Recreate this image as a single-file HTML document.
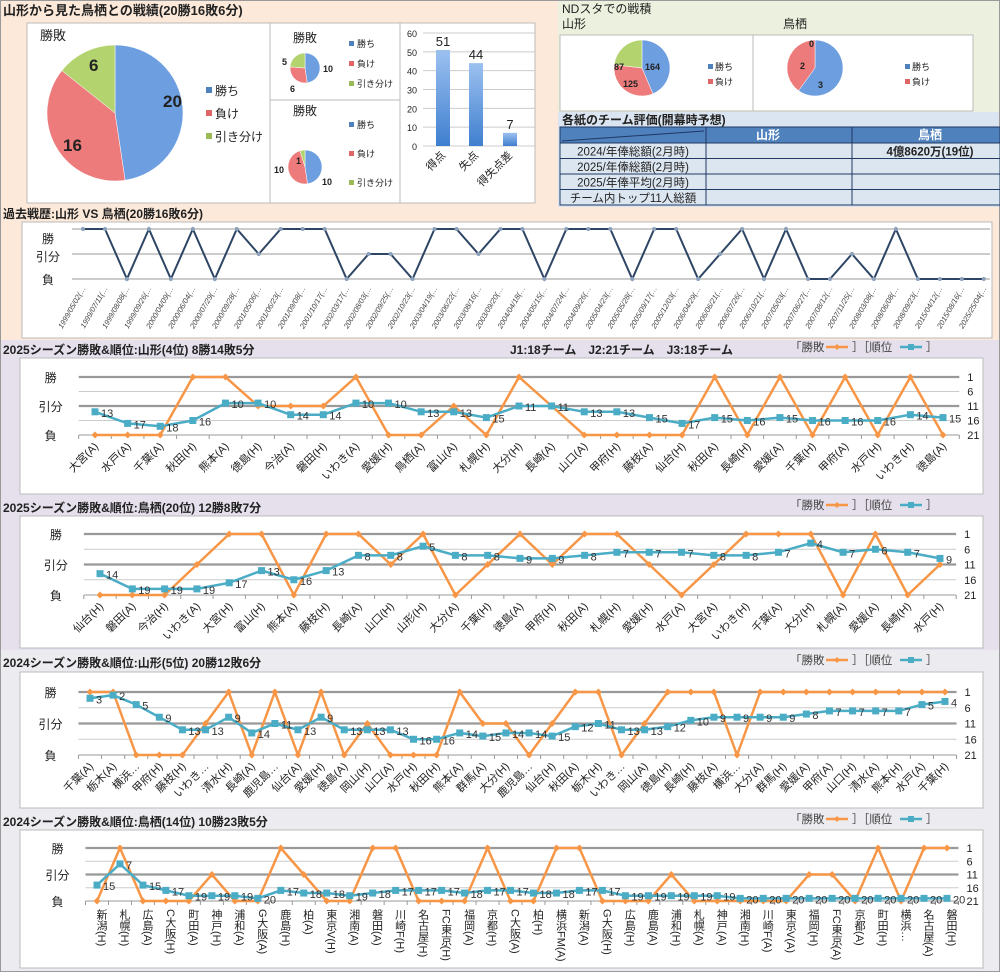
<!DOCTYPE html>
<html><head><meta charset="utf-8">
<style>
html,body{margin:0;padding:0;width:1000px;height:972px;overflow:hidden;background:#fff;}
svg{display:block;font-family:"Liberation Sans","Noto Sans CJK JP",sans-serif;}
</style></head>
<body>
<svg id="s" width="1000" height="972" xmlns="http://www.w3.org/2000/svg"></svg>
<script>
const S=document.getElementById('s');const NS='http://www.w3.org/2000/svg';
function el(t,a,txt){const e=document.createElementNS(NS,t);for(const k in a)e.setAttribute(k,a[k]);if(txt!==undefined)e.textContent=txt;S.appendChild(e);return e;}
function rect(x,y,w,h,f,st,sw){return el('rect',{x,y,width:w,height:h,fill:f,stroke:st||'none','stroke-width':sw||1});}
function txt(x,y,t,o){o=o||{};return el('text',Object.assign({x,y,'font-size':12,fill:'#222'},o),t);}
function line(x1,y1,x2,y2,c,w){return el('line',{x1,y1,x2,y2,stroke:c,'stroke-width':w||1});}
// backgrounds
rect(0,0,1000,972,'#f2f2f2');
rect(0,0,1000,340,'#fde9d9');
rect(558,0,442,112,'#ebf1de');
rect(558,112,442,95,'#dbe5f1');
rect(0,340,1000,310,'#e5e0ec');
rect(0,650,1000,322,'#ececf0');
rect(0.5,0.5,999,971,'none','#999');
const B='bold';
txt(3,15,'山形から見た鳥栖との戦績(20勝16敗6分)',{'font-size':13,'font-weight':B});
// pie helper
function pie(cx,cy,r,vals,cols){const tot=vals.reduce((a,b)=>a+b,0);let a=-Math.PI/2;vals.forEach((v,i)=>{if(!v)return;const b=a+v/tot*2*Math.PI;const x1=cx+r*Math.cos(a),y1=cy+r*Math.sin(a),x2=cx+r*Math.cos(b),y2=cy+r*Math.sin(b);el('path',{d:`M${cx},${cy}L${x1},${y1}A${r},${r} 0 ${b-a>Math.PI?1:0} 1 ${x2},${y2}Z`,fill:cols[i],stroke:'#fff','stroke-width':0.5});a=b;});}
const C3=['#4f81bd','#e06666','#9bbb59'];
const PC=['#6d9ee0','#ee7b7b','#b3d36e'];
// big pie
rect(27,23,243,180,'#fff','#bbb');
txt(40,40,'勝敗',{'font-size':13});
pie(115,113,68,[20,16,6],PC);
txt(163,107,'20',{'font-size':17,'font-weight':B});
txt(63,151,'16',{'font-size':17,'font-weight':B});
txt(89,71,'6',{'font-size':17,'font-weight':B});
[['勝ち',95],['負け',118],['引き分け',141]].forEach((l,i)=>{rect(206,l[1]-8,6,6,C3[i]);txt(215,l[1],l[0],{'font-size':12});});
// small pies
rect(270,23,130,77,'#fff','#bbb');rect(270,100,130,103,'#fff','#bbb');
txt(293,42,'勝敗',{'font-size':12});txt(293,115,'勝敗',{'font-size':12});
pie(305,68,15,[10,6,5],PC);
txt(323,72,'10',{'font-size':9,'font-weight':B});txt(282,65,'5',{'font-size':9,'font-weight':B});txt(290,92,'6',{'font-size':9,'font-weight':B});
[['勝ち',47],['負け',67],['引き分け',87]].forEach((l,i)=>{rect(349,l[1]-6,5,5,C3[i]);txt(357,l[1],l[0],{'font-size':9});});
pie(305,167,17,[10,10,1],PC);
txt(296,164,'1',{'font-size':9,'font-weight':B});txt(274,173,'10',{'font-size':9,'font-weight':B});txt(322,185,'10',{'font-size':9,'font-weight':B});
[['勝ち',128],['負け',157],['引き分け',186]].forEach((l,i)=>{rect(349,l[1]-6,5,5,C3[i]);txt(357,l[1],l[0],{'font-size':9});});
// bar chart
rect(400,23,135,180,'#fff','#bbb');
const d=el('defs',{});d.innerHTML='<linearGradient id="bg" x1="0" y1="0" x2="0" y2="1"><stop offset="0" stop-color="#9cc1f0"/><stop offset="1" stop-color="#3f7fcf"/></linearGradient>';
for(let v=0;v<=60;v+=10){const y=146-v*113/60;line(423,y,535,y,'#ccc');txt(417,y+4,String(v),{'font-size':9,'text-anchor':'end'});}
[[51,436,'得点'],[44,469,'失点'],[7,503,'得失点差']].forEach(b=>{const h=b[0]*113/60;rect(b[1],146-h,14,h,'url(#bg)');txt(b[1]+7,146-h-4,String(b[0]),{'font-size':13,'text-anchor':'middle'});txt(b[1]+10,156,b[2],{'font-size':11,'text-anchor':'end',transform:`rotate(-45 ${b[1]+10} 156)`});});
// ND sta
txt(562,13,'NDスタでの戦積',{'font-size':12});
txt(562,28,'山形',{'font-size':12});txt(783,28,'鳥栖',{'font-size':12});
rect(560,35,193,76,'#fff','#bbb');rect(753,35,220,76,'#fff','#bbb');
pie(642,68,28,[164,125,87],PC);
txt(645,70,'164',{'font-size':9,'font-weight':B});txt(623,87,'125',{'font-size':9,'font-weight':B});txt(614,70,'87',{'font-size':9,'font-weight':B});
pie(815,68,28,[3,2,0],PC);
txt(818,88,'3',{'font-size':9,'font-weight':B});txt(800,69,'2',{'font-size':9,'font-weight':B});txt(809,47,'0',{'font-size':9,'font-weight':B});
[[708,'勝ち',70],[708,'負け',85],[905,'勝ち',70],[905,'負け',85]].forEach((l,i)=>{rect(l[0],l[2]-6,5,5,C3[i%2]);txt(l[0]+7,l[2],l[1],{'font-size':9});});
// table
txt(562,124,'各紙のチーム評価(開幕時予想)',{'font-size':12,'font-weight':B});
rect(560,127,440,16,'#4f81bd','#1f3864');
line(562,141,704,131,'#1f3864');
txt(768,139,'山形',{'font-size':12,'fill':'#fff','font-weight':B,'text-anchor':'middle'});
txt(930,139,'鳥栖',{'font-size':12,'fill':'#fff','font-weight':B,'text-anchor':'middle'});
const rows=['2024/年俸総額(2月時)','2025/年俸総額(2月時)','2025/年俸平均(2月時)','チーム内トップ11人総額'];
rows.forEach((r,i)=>{const y=143+i*15.5;rect(560,y,146,15.5,'#dce6f1','#1f3864');rect(706,y,146,15.5,'#dce6f1','#1f3864');rect(852,y,148,15.5,'#dce6f1','#1f3864');txt(633,y+12.5,r,{'font-size':11.5,'text-anchor':'middle'});});
txt(930,155.5,'4億8620万(19位)',{'font-size':11.5,'font-weight':B,'text-anchor':'middle'});
line(706,127,706,205,'#1f3864');line(852,127,852,205,'#1f3864');
// history
txt(3,218,'過去戦歴:山形 VS 鳥栖(20勝16敗6分)',{'font-size':12,'font-weight':B});
rect(22,222,970,116,'#fff','#bbb');
const hd=['1999/05/02','1999/07/11','1999/08/08','1999/09/26','2000/04/09','2000/06/04','2000/07/29','2000/09/28','2001/05/06','2001/06/23','2001/09/08','2001/10/17','2002/03/17','2002/08/03','2002/09/25','2002/10/23','2003/04/19','2003/06/22','2003/08/16','2003/09/20','2004/04/18','2004/05/15','2004/07/24','2004/09/26','2005/04/23','2005/05/28','2005/09/17','2005/12/03','2006/04/29','2006/06/21','2006/07/26','2006/10/21','2007/05/03','2007/06/27','2007/08/12','2007/11/25','2008/03/08','2008/06/08','2008/09/23','2015/04/12','2015/08/16','2025/25/04'];
const hr='WWLWLWLWDWWWLDDLWWDWWLWWWLWWLDWLWLLDLWLLLL';
[229,254,279].forEach(y=>line(72,y,990,y,'#bbb',1.5));
txt(48,243,'勝',{'font-size':12,'text-anchor':'middle'});txt(48,261,'引分',{'font-size':12,'text-anchor':'middle'});txt(48,284,'負',{'font-size':12,'text-anchor':'middle'});
const hx=i=>83+i*21.97,hy=c=>c=='W'?229:c=='D'?254:279;
el('polyline',{points:hd.map((_,i)=>hx(i)+','+hy(hr[i])).join(' '),fill:'none',stroke:'#2e4565','stroke-width':2});
hd.forEach((l,i)=>{el('circle',{cx:hx(i),cy:hy(hr[i]),r:2,fill:'#8aa0bb'});const x=hx(i)+3,y=288;txt(x,y,l+'(…',{'font-size':7.5,'fill':'#444','font-style':'italic','text-anchor':'end',transform:`rotate(-60 ${x} ${y})`});});
// series charts
function series(c){
 txt(3,c.ty,c.title,{'font-size':12,'font-weight':B});
 if(c.extra)txt(510,c.ty,c.extra,{'font-size':12,'font-weight':B});
 txt(790,c.ty-3,'「勝敗',{'font-size':11.5,'fill':'#444'});
 line(826,c.ty-7,848,c.ty-7,'#f79646',2.5);el('path',{d:`M837,${c.ty-10}l3,3l-3,3l-3,-3z`,fill:'#f79646'});
 txt(852,c.ty-3,'］［順位',{'font-size':11.5,'fill':'#444'});
 line(900,c.ty-7,922,c.ty-7,'#4bacc6',2.5);rect(908,c.ty-10,6,6,'#4bacc6');
 txt(926,c.ty-3,'］',{'font-size':11.5,'fill':'#444'});
 rect(20,c.by,963,c.bh,'#fff','#bbb');
 const n=c.lab.length,sp=(c.x1-c.x0)/(n-1),L=c.x0-sp/2,R=c.x1+sp/2,yt=c.yt,yb=c.yb,ry=r=>yt+(r-1)/20*(yb-yt);
 [1,6,11,16,21].forEach(r=>line(L,ry(r),R,ry(r),(r==1||r==11||r==21)?'#999':'#ccc',(r==1||r==11)?2.2:1));
 for(let i=0;i<=n;i++)line(L+i*sp,yb,L+i*sp,yb+4,'#999');
 txt(L-28,yt+5,'勝',{'font-size':12,'text-anchor':'middle'});txt(L-28,(yt+yb)/2+5,'引分',{'font-size':12,'text-anchor':'middle'});txt(L-28,yb+5,'負',{'font-size':12,'text-anchor':'middle'});
 [1,6,11,16,21].forEach(r=>txt(R+8,ry(r)+4,String(r),{'font-size':11}));
 const X=i=>c.x0+i*sp,RY=ch=>ch=='W'?yt:ch=='D'?(yt+yb)/2:yb;
 el('polyline',{points:c.lab.map((_,i)=>X(i)+','+RY(c.res[i])).join(' '),fill:'none',stroke:'#f79646','stroke-width':2.5});
 c.lab.forEach((_,i)=>el('path',{d:`M${X(i)},${RY(c.res[i])-3.5}l3.5,3.5l-3.5,3.5l-3.5,-3.5z`,fill:'#f79646'}));
 el('polyline',{points:c.rk.map((r,i)=>X(i)+','+ry(r)).join(' '),fill:'none',stroke:'#4bacc6','stroke-width':2.5});
 c.rk.forEach((r,i)=>{rect(X(i)-3.5,ry(r)-3.5,7,7,'#4bacc6');txt(X(i)+6,ry(r)+5,String(r),{'font-size':11,'fill':'#333'});});
 c.lab.forEach((l,i)=>{if(c.vert){txt(X(i)+4,yb+8,l,{'font-size':11,'writing-mode':'vertical-rl',style:'writing-mode:vertical-rl','fill':'#222'});}else{const x=X(i)+4,y=yb+12;txt(x,y,l,{'font-size':11,'text-anchor':'end',transform:`rotate(-45 ${x} ${y})`});}});
}
series({ty:354,title:'2025シーズン勝敗&順位:山形(4位) 8勝14敗5分',extra:'J1:18チーム　J2:21チーム　J3:18チーム',by:358,bh:136,x0:95,x1:943,yt:377,yb:435,
lab:['大宮(A)','水戸(A)','千葉(A)','秋田(H)','熊本(A)','徳島(H)','今治(A)','磐田(H)','いわき(A)','愛媛(H)','鳥栖(A)','富山(A)','札幌(H)','大分(H)','長崎(A)','山口(A)','甲府(H)','藤枝(A)','仙台(H)','秋田(A)','長崎(H)','愛媛(A)','千葉(H)','甲府(A)','水戸(H)','いわき(H)','徳島(A)'],
res:'LLLWWDDDWLLDLWDLLLLWLWLWLWL',rk:[13,17,18,16,10,10,14,14,10,10,13,13,15,11,11,13,13,15,17,15,16,15,16,16,16,14,15]});
series({ty:512,title:'2025シーズン勝敗&順位:鳥栖(20位) 12勝8敗7分',by:516,bh:132,x0:100,x1:940,yt:534,yb:595,
lab:['仙台(H)','磐田(A)','今治(H)','いわき(A)','大宮(H)','富山(H)','熊本(A)','藤枝(H)','長崎(A)','山口(H)','山形(H)','大分(A)','千葉(H)','徳島(A)','甲府(H)','秋田(A)','札幌(H)','愛媛(H)','水戸(A)','大宮(A)','いわき(H)','千葉(A)','大分(H)','札幌(A)','愛媛(A)','長崎(H)','水戸(H)'],
res:'LLLDWWLWWDWLDWDWWDLDWWWLWLD',rk:[14,19,19,19,17,13,16,13,8,8,5,8,8,9,9,8,7,7,7,8,8,7,4,7,6,7,9]});
series({ty:667,title:'2024シーズン勝敗&順位:山形(5位) 20勝12敗6分',by:672,bh:136,x0:90,x1:945,yt:692,yb:755,
lab:['千葉(A)','栃木(A)','横浜…','甲府(H)','藤枝(H)','いわき…','清水(H)','長崎(A)','鹿児島…','仙台(A)','愛媛(H)','徳島(A)','岡山(H)','山口(A)','水戸(H)','秋田(H)','熊本(A)','群馬(A)','大分(H)','鹿児島…','仙台(H)','秋田(A)','栃木(H)','いわき…','岡山(A)','徳島(H)','長崎(H)','藤枝(A)','横浜…','大分(A)','群馬(H)','愛媛(A)','甲府(A)','山口(H)','清水(A)','熊本(H)','水戸(A)','千葉(H)'],
res:'WWLLLDWLWLWLDLLLWDDLDWWLDWWWLWWWWWWWWW',rk:[3,2,5,9,13,13,9,14,11,13,9,13,13,13,16,16,14,15,14,14,15,12,11,13,13,12,10,9,9,9,9,8,7,7,7,7,5,4]});
series({ty:826,title:'2024シーズン勝敗&順位:鳥栖(14位) 10勝23敗5分',by:830,bh:138,x0:97,x1:947,yt:848,yb:901,vert:true,
lab:['新潟(H)','札幌(H)','広島(A)','C大阪(H)','町田(A)','神戸(H)','浦和(A)','G大阪(A)','鹿島(H)','柏(A)','東京V(H)','湘南(A)','磐田(A)','川崎F(H)','名古屋(H)','FC東京(H)','福岡(A)','京都(H)','C大阪(A)','柏(H)','横浜FM(A)','新潟(A)','G大阪(H)','広島(H)','鹿島(A)','浦和(H)','札幌(A)','神戸(A)','湘南(H)','川崎F(A)','東京V(A)','福岡(H)','FC東京(A)','京都(A)','町田(H)','横浜…','名古屋(A)','磐田(H)'],
res:'LWLLLDLLWDLLWWLLLWLLWWLLLDLLLLLDDLWLWW',rk:[15,7,15,17,19,19,19,20,17,18,18,19,18,17,17,17,18,17,17,18,18,17,17,19,19,19,19,19,20,20,20,20,20,20,20,20,20,20]});
</script>
</body></html>
